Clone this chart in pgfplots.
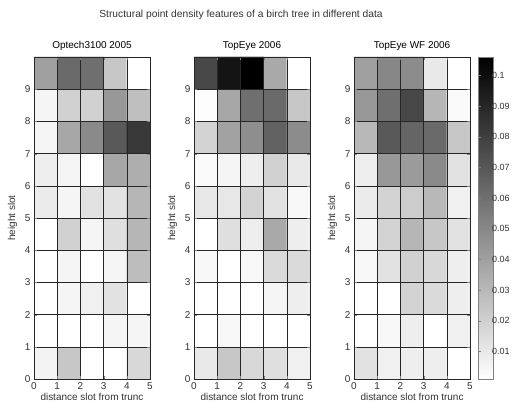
\documentclass[border=0pt]{standalone}
\usepackage{pgfplots}
\pgfplotsset{compat=1.18}
\usepackage{fontspec}
\setmainfont{Liberation Sans}
\definecolor{txt}{HTML}{333333}
\pgfplotsset{
  hm/.style={
    scale only axis, width=116bp, height=322bp,
    xmin=0,xmax=5,ymin=0,ymax=10,
    xtick={0,1,2,3,4,5}, ytick={0,1,2,3,4,5,6,7,8,9,10},
    yticklabels={0,1,2,3,4,5,6,7,8,9,{}},
    grid=major, grid style={black!85, line width=0.6pt}, axis on top,
    colormap={wb}{color(0cm)=(white); color(1cm)=(black)},
    point meta min=0.001, point meta max=0.106,
    tick label style={font=\fontsize{10}{11}\selectfont, text=txt},
    /pgf/number format/assume math mode=true,
    label style={font=\fontsize{10}{11}\selectfont, text=txt},
    title style={font=\fontsize{10}{11}\selectfont, yshift=-3bp},
    xlabel={distance slot from trunc}, ylabel={height slot},
    xlabel style={yshift=3bp}, ylabel style={yshift=1bp},
    tick align=inside, major tick length=3bp,
    axis line style={black!85, line width=0.6pt},
    anchor=south west,
  }
}
\begin{document}
\begin{tikzpicture}[x=1bp,y=1bp]
\useasboundingbox (0,0) rectangle (517,408);
\node[font=\fontsize{10.3}{12}\selectfont, text=txt] at (241,393) {Structural point density features of a birch tree in different data};

\begin{axis}[hm, at={(34bp,29bp)}, title={Optech3100 2005}]
\addplot[matrix plot*, mesh/cols=5, point meta=explicit] table[meta=c]{
x y c
0.5 0.5 0.006
1.5 0.5 0.024
2.5 0.5 0.001
3.5 0.5 0.001
4.5 0.5 0.017
0.5 1.5 0.001
1.5 1.5 0.001
2.5 1.5 0.001
3.5 1.5 0.005
4.5 1.5 0.005
0.5 2.5 0.001
1.5 2.5 0.005
2.5 2.5 0.007
3.5 2.5 0.013
4.5 2.5 0.001
0.5 3.5 0.001
1.5 3.5 0.005
2.5 3.5 0.001
3.5 3.5 0.005
4.5 3.5 0.028
0.5 4.5 0.001
1.5 4.5 0.020
2.5 4.5 0.005
3.5 4.5 0.014
4.5 4.5 0.031
0.5 5.5 0.009
1.5 5.5 0.005
2.5 5.5 0.013
3.5 5.5 0.013
4.5 5.5 0.031
0.5 6.5 0.008
1.5 6.5 0.005
2.5 6.5 0.001
3.5 6.5 0.037
4.5 6.5 0.034
0.5 7.5 0.005
1.5 7.5 0.037
2.5 7.5 0.049
3.5 7.5 0.069
4.5 7.5 0.082
0.5 8.5 0.005
1.5 8.5 0.020
2.5 8.5 0.020
3.5 8.5 0.043
4.5 8.5 0.027
0.5 9.5 0.040
1.5 9.5 0.062
2.5 9.5 0.060
3.5 9.5 0.024
4.5 9.5 0.001
};
\end{axis}

\begin{axis}[hm, at={(194bp,29bp)}, title={TopEye 2006}]
\addplot[matrix plot*, mesh/cols=5, point meta=explicit] table[meta=c]{
x y c
0.5 0.5 0.010
1.5 0.5 0.024
2.5 0.5 0.017
3.5 0.5 0.014
4.5 0.5 0.007
0.5 1.5 0.001
1.5 1.5 0.004
2.5 1.5 0.001
3.5 1.5 0.001
4.5 1.5 0.001
0.5 2.5 0.001
1.5 2.5 0.001
2.5 2.5 0.001
3.5 2.5 0.005
4.5 2.5 0.008
0.5 3.5 0.004
1.5 3.5 0.001
2.5 3.5 0.004
3.5 3.5 0.016
4.5 3.5 0.016
0.5 4.5 0.001
1.5 4.5 0.014
2.5 4.5 0.008
3.5 4.5 0.036
4.5 4.5 0.008
0.5 5.5 0.011
1.5 5.5 0.011
2.5 5.5 0.019
3.5 5.5 0.013
4.5 5.5 0.004
0.5 6.5 0.003
1.5 6.5 0.005
2.5 6.5 0.008
3.5 6.5 0.020
4.5 6.5 0.010
0.5 7.5 0.019
1.5 7.5 0.039
2.5 7.5 0.047
3.5 7.5 0.065
4.5 7.5 0.048
0.5 8.5 0.002
1.5 8.5 0.037
2.5 8.5 0.060
3.5 8.5 0.062
4.5 8.5 0.024
0.5 9.5 0.076
1.5 9.5 0.097
2.5 9.5 0.106
3.5 9.5 0.036
4.5 9.5 0.001
};
\end{axis}

\begin{axis}[hm, at={(354bp,29bp)}, title={TopEye WF 2006},
  colorbar,
  colorbar style={
    at={(parent axis.north east)}, anchor=north west, xshift=0bp,
    width=15bp,
    ytick={0.01,0.02,0.03,0.04,0.05,0.06,0.07,0.08,0.09,0.1},
    yticklabel style={font=\fontsize{9}{10}\selectfont, text=txt,
      /pgf/number format/fixed, /pgf/number format/precision=2,
      /pgf/number format/assume math mode=true, xshift=-5bp},
    yticklabel pos=right,
    tick align=inside, major tick length=2bp,
    axis line style={gray},
  }]
\addplot[matrix plot*, mesh/cols=5, point meta=explicit] table[meta=c]{
x y c
0.5 0.5 0.013
1.5 0.5 0.007
2.5 0.5 0.008
3.5 0.5 0.008
4.5 0.5 0.001
0.5 1.5 0.001
1.5 1.5 0.004
2.5 1.5 0.008
3.5 1.5 0.001
4.5 1.5 0.007
0.5 2.5 0.001
1.5 2.5 0.001
2.5 2.5 0.019
3.5 2.5 0.016
4.5 2.5 0.008
0.5 3.5 0.004
1.5 3.5 0.013
2.5 3.5 0.020
3.5 3.5 0.017
4.5 3.5 0.008
0.5 4.5 0.005
1.5 4.5 0.019
2.5 4.5 0.031
3.5 4.5 0.024
4.5 4.5 0.013
0.5 5.5 0.009
1.5 5.5 0.019
2.5 5.5 0.022
3.5 5.5 0.030
4.5 5.5 0.007
0.5 6.5 0.008
1.5 6.5 0.043
2.5 6.5 0.042
3.5 6.5 0.049
4.5 6.5 0.013
0.5 7.5 0.030
1.5 7.5 0.069
2.5 7.5 0.064
3.5 7.5 0.062
4.5 7.5 0.024
0.5 8.5 0.043
1.5 8.5 0.060
2.5 8.5 0.076
3.5 8.5 0.031
4.5 8.5 0.003
0.5 9.5 0.040
1.5 9.5 0.050
2.5 9.5 0.048
3.5 9.5 0.010
4.5 9.5 0.001
};
\end{axis}
\end{tikzpicture}
\end{document}
